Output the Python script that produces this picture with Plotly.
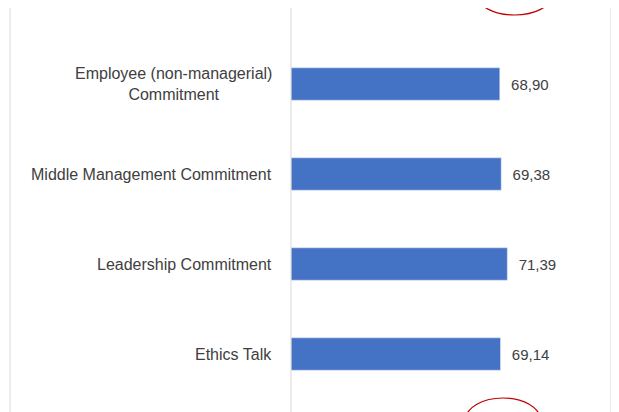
import plotly.graph_objects as go

W, H = 619, 412
OFF = 8  # page body margin

labels = ["Ethics Talk", "Leadership Commitment", "Middle Management Commitment",
          "Employee (non-managerial)<br>Commitment"]
values = [69.14, 71.39, 69.38, 68.90]
value_text = ["  69,14", "  71,39", "  69,38", "  68,90"]

fig = go.Figure(go.Bar(
    y=list(range(len(labels))), x=values, orientation="h",
    marker_color="#4472C4", width=0.36,
    text=value_text, textposition="outside", cliponaxis=False,
    textfont=dict(family="Liberation Sans", size=15, color="#404040"),
))

for i, lab in enumerate(labels):
    fig.add_annotation(x=(274 - OFF) / W, xref="paper", y=i, yref="y", text=lab,
                       showarrow=False, xanchor="right", align="center",
                       font=dict(family="Liberation Sans", size=16, color="#404040"))


def px_shape(x0, x1, y0, y1, **kw):
    return dict(xref="paper", yref="paper", x0=(x0 - OFF) / W, x1=(x1 - OFF) / W,
                y0=1 - (y1 - OFF) / H, y1=1 - (y0 - OFF) / H, **kw)


# pixel positions of bar centres in the reference: 338 (index 0) ... 68 (index 3)
top_px, bot_px = 0 - OFF, H - OFF
y_top = 3 + (68 - top_px) / 90
y_bot = 0 - (bot_px - 338) / 90

fig.update_layout(
    width=W, height=H, margin=dict(l=0, r=0, t=0, b=0),
    plot_bgcolor="white", paper_bgcolor="white", showlegend=False,
    xaxis=dict(domain=[(291 - OFF) / W, 1], range=[0, (W - 291 + OFF) / 3.03],
               showgrid=False, showticklabels=False, zeroline=False),
    yaxis=dict(range=[y_bot, y_top], showticklabels=False, showgrid=False,
               zeroline=False),
    shapes=[
        px_shape(291, 291, 0, H + OFF, type="line", line=dict(color="#D9D9D9", width=1)),
        px_shape(10, 10, 0, H + OFF, type="line", line=dict(color="#D9D9D9", width=1)),
        px_shape(611, 611, 0, H + OFF, type="line", line=dict(color="#D9D9D9", width=1)),
        px_shape(477, 552, -25, 15, type="circle", line=dict(color="#C00000", width=1.2)),
        px_shape(466, 540, 398, 440, type="circle", line=dict(color="#C00000", width=1.2)),
    ],
)

fig.write_html("out.html")
